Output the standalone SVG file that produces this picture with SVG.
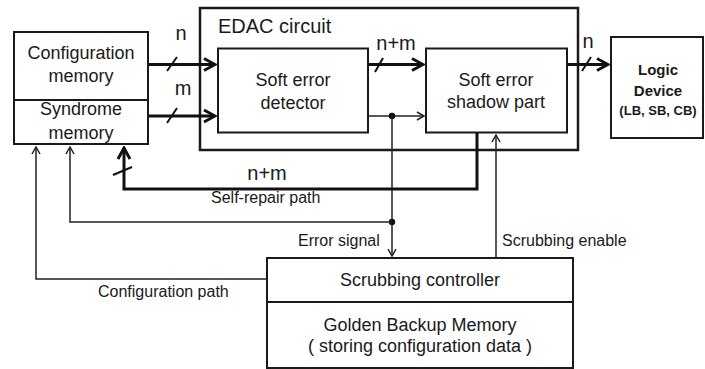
<svg xmlns="http://www.w3.org/2000/svg" width="705" height="369" viewBox="0 0 705 369">
<defs>
<style>
.box{fill:#fff;stroke:#1a1a1a;stroke-width:2}
.edac{fill:none;stroke:#1a1a1a;stroke-width:2.5}
.t{font-family:"Liberation Sans",Arial,sans-serif;font-size:18px;fill:#1a1a1a;text-anchor:middle}
.lb{font-family:"Liberation Sans",Arial,sans-serif;font-size:16px;fill:#1a1a1a}
.num{font-family:"Liberation Sans",Arial,sans-serif;font-size:20px;fill:#1a1a1a;text-anchor:middle}
.bold{font-family:"Liberation Sans",Arial,sans-serif;font-weight:bold;fill:#1a1a1a;text-anchor:middle}
.thick{fill:none;stroke:#111;stroke-width:3}
.thin{fill:none;stroke:#222;stroke-width:1.5}
.slash{fill:none;stroke:#111;stroke-width:2}
</style>
<marker id="ah" markerUnits="userSpaceOnUse" viewBox="-14 -8 16 16" refX="0" refY="0" markerWidth="16" markerHeight="16" orient="auto">
<path d="M-11,-6 L0,0 L-11,6" fill="none" stroke="#111" stroke-width="3"/>
</marker>
<marker id="as" markerUnits="userSpaceOnUse" viewBox="-10 -6 12 12" refX="0" refY="0" markerWidth="12" markerHeight="12" orient="auto">
<path d="M-7,-4 L0,0 L-7,4" fill="none" stroke="#222" stroke-width="1.5"/>
</marker>
</defs>
<rect width="705" height="369" fill="#fff"/>

<g id="edac">
<rect class="edac" x="200" y="8" width="378" height="142"/>
<text class="lb" x="218" y="33" style="font-size:20px">EDAC circuit</text>
</g>

<g id="config-memory">
<rect class="box" x="14" y="32" width="134" height="112"/>
<line x1="14" y1="100" x2="148" y2="100" stroke="#1a1a1a" stroke-width="2"/>
<text class="t" x="81" y="59">Configuration</text>
<text class="t" x="81" y="82">memory</text>
<text class="t" x="81" y="115">Syndrome</text>
<text class="t" x="81" y="139">memory</text>
</g>

<g id="detector">
<rect class="box" x="218" y="48.5" width="150" height="84"/>
<text class="t" x="293" y="86">Soft error</text>
<text class="t" x="293" y="109">detector</text>
</g>

<g id="shadow">
<rect class="box" x="426" y="48.5" width="141" height="84"/>
<text class="t" x="496" y="86">Soft error</text>
<text class="t" x="496" y="108">shadow part</text>
</g>

<g id="logic">
<rect class="box" x="611" y="37" width="92" height="101"/>
<text class="bold" x="658" y="75" style="font-size:15px">Logic</text>
<text class="bold" x="658" y="96" style="font-size:15px">Device</text>
<text class="bold" x="658" y="115" style="font-size:13px">(LB, SB, CB)</text>
</g>

<g id="scrubbing">
<rect class="box" x="267" y="258" width="306" height="110"/>
<line x1="267" y1="302" x2="573" y2="302" stroke="#1a1a1a" stroke-width="2"/>
<text class="t" x="420" y="286">Scrubbing controller</text>
<text class="t" x="420" y="331">Golden Backup Memory</text>
<text class="t" x="420" y="352">( storing configuration data )</text>
</g>

<g id="connectors">
<line class="thick" x1="149" y1="64.5" x2="215" y2="64.5" marker-end="url(#ah)"/>
<line class="slash" x1="167" y1="71" x2="177" y2="57"/>
<text class="num" x="181" y="40">n</text>
<line class="thick" x1="149" y1="116" x2="215" y2="116" marker-end="url(#ah)"/>
<line class="slash" x1="167" y1="123" x2="177" y2="108"/>
<text class="num" x="183" y="95">m</text>

<line class="thick" x1="368" y1="64.5" x2="423" y2="64.5" marker-end="url(#ah)"/>
<line class="slash" x1="375" y1="72" x2="383" y2="58"/>
<text class="num" x="396" y="50">n+m</text>

<line class="thick" x1="567" y1="64.5" x2="608" y2="64.5" marker-end="url(#ah)"/>
<line class="slash" x1="582" y1="71" x2="591" y2="57"/>
<text class="num" x="588" y="48">n</text>

<line class="thin" x1="368" y1="116" x2="424" y2="116" marker-end="url(#as)"/>
<circle cx="392" cy="116" r="3.2" fill="#111"/>

<line class="thin" x1="392" y1="116" x2="392" y2="256" marker-end="url(#as)"/>
<circle cx="392" cy="222" r="3.2" fill="#111"/>
<polyline class="thin" points="392,222 70,222 70,147" marker-end="url(#as)"/>
<text class="lb" x="298" y="246">Error signal</text>

<polyline class="thin" points="267,279 36,279 36,147" marker-end="url(#as)"/>
<text class="lb" x="98" y="297">Configuration path</text>

<polyline class="thick" points="477,133 477,189 124,189 124,148" marker-end="url(#ah)"/>
<line class="slash" x1="113" y1="175" x2="132" y2="167"/>
<text class="num" x="267" y="180">n+m</text>
<text class="lb" x="211" y="203">Self-repair path</text>

<line class="thin" x1="496" y1="258" x2="496" y2="135" marker-end="url(#as)"/>
<text class="lb" x="502" y="246">Scrubbing enable</text>
</g>
</svg>
